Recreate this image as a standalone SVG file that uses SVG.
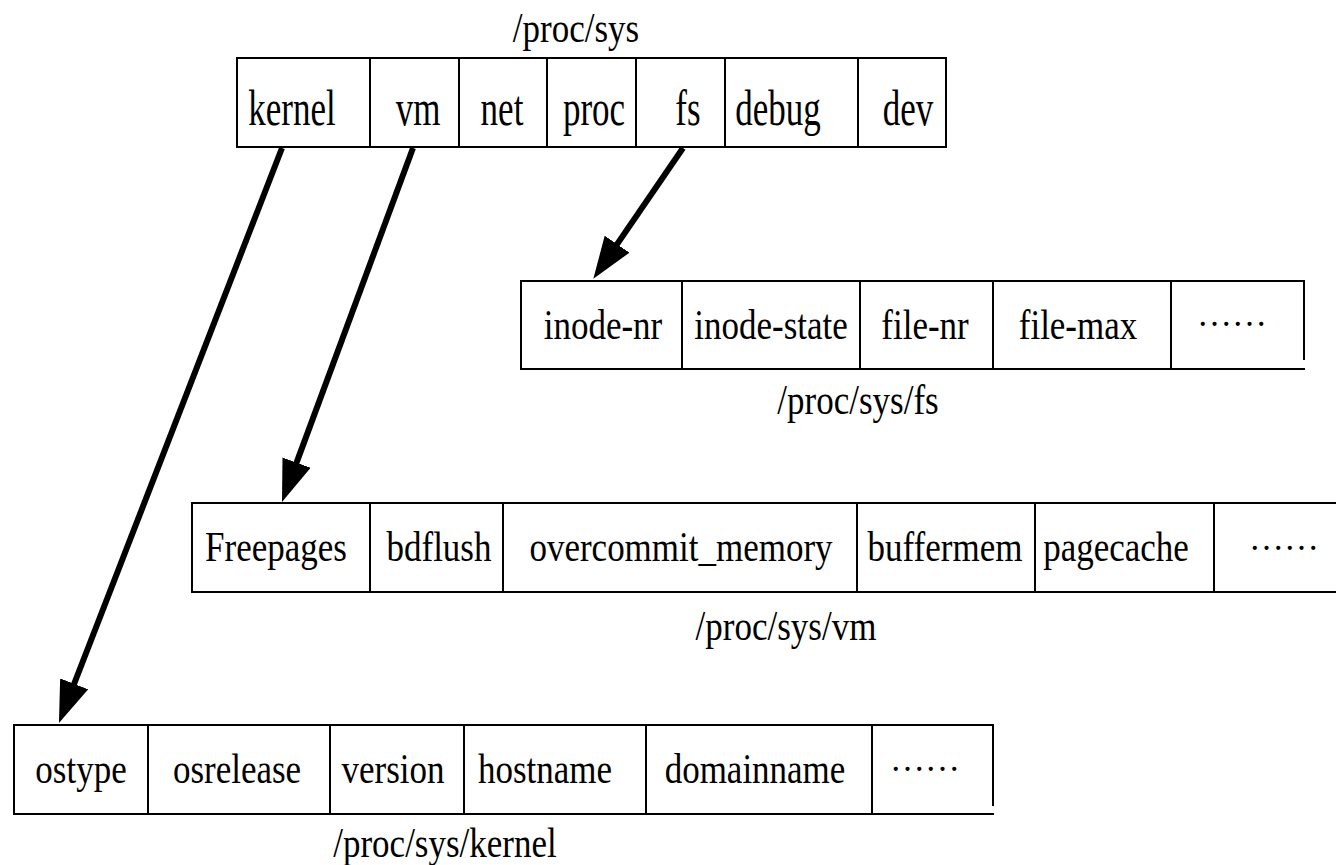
<svg xmlns="http://www.w3.org/2000/svg" width="1336" height="865" viewBox="0 0 1336 865">
  <defs>
    <marker id="head" markerUnits="userSpaceOnUse" viewBox="0 0 42 30" refX="12" refY="15" markerWidth="42" markerHeight="30" orient="auto">
      <path d="M0,0 L42,15 L0,30 Z" fill="#000"/>
    </marker>
  </defs>
  <style>
    .cell { fill: none; stroke: #000; stroke-width: 2; }
    .t { font-family: "Liberation Serif", "Times New Roman", serif; font-size: 35px; fill: #000; text-anchor: middle; }
    .arrow { stroke: #000; stroke-width: 6; fill: none; marker-end: url(#head); }
  </style>
  <rect width="1336" height="865" fill="#fff"/>

  <!-- /proc/sys -->
  <g id="sys">
    <path class="cell" d="M237,58 H946 V147 H237 Z M370,58 V147 M459,58 V147 M547,58 V147 M636,58 V147 M725,58 V147 M858,58 V147"/>
    <text class="t" transform="translate(292,125) scale(1,1.45)">kernel</text>
    <text class="t" transform="translate(418,125) scale(1,1.45)">vm</text>
    <text class="t" transform="translate(502,125) scale(1,1.45)">net</text>
    <text class="t" transform="translate(594,125) scale(1,1.45)">proc</text>
    <text class="t" transform="translate(688,125) scale(1,1.45)">fs</text>
    <text class="t" transform="translate(778,125) scale(1,1.45)">debug</text>
    <text class="t" transform="translate(908,125) scale(1,1.45)">dev</text>
    <text class="t" transform="translate(576,42) scale(1,1.22)">/proc/sys</text>
  </g>

  <!-- /proc/sys/fs -->
  <g id="fs">
    <path class="cell" d="M1305,281 H521 V369 H1305 M1304,281 V360 M682,281 V369 M860,281 V369 M993,281 V369 M1171,281 V369"/>
    <text class="t" transform="translate(603,339) scale(1,1.2)">inode-nr</text>
    <text class="t" transform="translate(771,339) scale(1,1.2)">inode-state</text>
    <text class="t" transform="translate(925,339) scale(1,1.2)">file-nr</text>
    <text class="t" transform="translate(1078,339) scale(1,1.2)">file-max</text>
    <text class="t" x="1232" y="326">……</text>
    <text class="t" transform="translate(858,414) scale(1,1.22)">/proc/sys/fs</text>
  </g>

  <!-- /proc/sys/vm -->
  <g id="vm">
    <path class="cell" d="M1336,503 H192 V592 H1336 M370,503 V592 M503,503 V592 M857,503 V592 M1035,503 V592 M1214,503 V592"/>
    <text class="t" transform="translate(276,561) scale(1,1.2)">Freepages</text>
    <text class="t" transform="translate(439,561) scale(1,1.2)">bdflush</text>
    <text class="t" transform="translate(681,561) scale(1,1.2)">overcommit_memory</text>
    <text class="t" transform="translate(945,561) scale(1,1.2)">buffermem</text>
    <text class="t" transform="translate(1116,561) scale(1,1.2)">pagecache</text>
    <text class="t" x="1284" y="550">……</text>
    <text class="t" transform="translate(786,640) scale(1,1.22)">/proc/sys/vm</text>
  </g>

  <!-- /proc/sys/kernel -->
  <g id="kernel">
    <path class="cell" d="M994,725 H14 V814 H994 M993,725 V806 M148,725 V814 M330,725 V814 M464,725 V814 M646,725 V814 M872,725 V814"/>
    <text class="t" transform="translate(81,783) scale(1,1.22)">ostype</text>
    <text class="t" transform="translate(237,783) scale(1,1.22)">osrelease</text>
    <text class="t" transform="translate(393,783) scale(1,1.22)">version</text>
    <text class="t" transform="translate(545,783) scale(1,1.22)">hostname</text>
    <text class="t" transform="translate(755,783) scale(1,1.22)">domainname</text>
    <text class="t" x="925" y="771">……</text>
    <text class="t" transform="translate(445,857) scale(1,1.22)">/proc/sys/kernel</text>
  </g>

  <!-- directory links -->
  <g id="connectors">
    <line class="arrow" x1="282" y1="148" x2="69.8" y2="695"/>
    <line class="arrow" x1="413" y1="148" x2="292.4" y2="473.9"/>
    <line class="arrow" x1="683" y1="148" x2="610.3" y2="254.1"/>
  </g>
</svg>
